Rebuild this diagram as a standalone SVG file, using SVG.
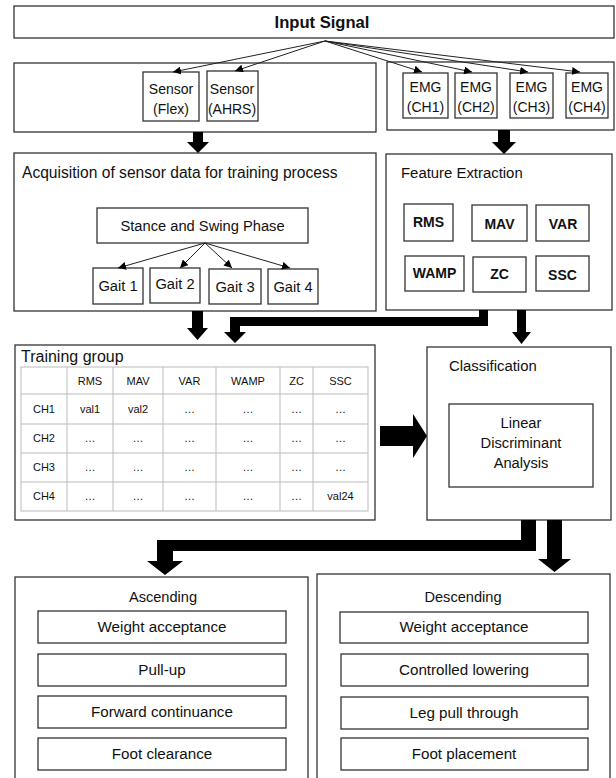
<svg xmlns="http://www.w3.org/2000/svg" width="616" height="778" viewBox="0 0 616 778" font-size="14">
<defs>
<marker id="ah" viewBox="0 0 10 10" refX="10" refY="5" markerWidth="8" markerHeight="8" markerUnits="userSpaceOnUse" orient="auto"><path d="M0,0 L10,5 L0,10 z" fill="#000"/></marker>
<style>
.box{fill:#fff;stroke:#333;stroke-width:1.3}
.t{font-family:"Liberation Sans",Arial,sans-serif;fill:#111}
.c{text-anchor:middle}
.b{font-weight:bold}
.ln{stroke:#222;stroke-width:1;fill:none;marker-end:url(#ah)}
.grid{stroke:#bbb;stroke-width:1;fill:none}
.tt{font-family:"Liberation Sans",Arial,sans-serif;font-size:11px;fill:#111;text-anchor:middle}
.thick{fill:#000}
.bt{font-size:15.2px}
</style>
</defs>
<rect width="616" height="778" fill="#fff"/>

<g id="input-signal">
<rect class="box" x="14" y="6" width="600" height="32"/>
<text class="t c b" x="322" y="28" font-size="16.6">Input Signal</text>
</g>

<g id="sensor-group">
<rect class="box" x="14" y="63" width="362" height="69"/>
</g>
<g id="sensor-flex">
<rect class="box" x="143" y="72" width="56" height="49"/>
<text class="t c" x="171" y="94">Sensor</text>
<text class="t c" x="171" y="114">(Flex)</text>
</g>
<g id="sensor-ahrs">
<rect class="box" x="207" y="71" width="51" height="50"/>
<text class="t c" x="232" y="94">Sensor</text>
<text class="t c" x="232" y="114">(AHRS)</text>
</g>

<g id="emg-group">
<rect class="box" x="387" y="62" width="227" height="68"/>
</g>
<g id="emg-ch1"><rect class="box" x="403" y="73" width="45" height="45"/><text class="t c" x="425.5" y="92">EMG</text><text class="t c" x="425.5" y="112">(CH1)</text></g>
<g id="emg-ch2"><rect class="box" x="455" y="73" width="42" height="45"/><text class="t c" x="476" y="92">EMG</text><text class="t c" x="476" y="112">(CH2)</text></g>
<g id="emg-ch3"><rect class="box" x="510" y="73" width="43" height="45"/><text class="t c" x="531.5" y="92">EMG</text><text class="t c" x="531.5" y="112">(CH3)</text></g>
<g id="emg-ch4"><rect class="box" x="566" y="73" width="42" height="45"/><text class="t c" x="587" y="92">EMG</text><text class="t c" x="587" y="112">(CH4)</text></g>

<g id="acquisition">
<rect class="box" x="14" y="153" width="362" height="158"/>
<text class="t" x="22" y="178" font-size="15.6">Acquisition of sensor data for training process</text>
</g>
<g id="stance-swing">
<rect class="box" x="97" y="208" width="211" height="35"/>
<text class="t c" x="202.5" y="231" font-size="14.7">Stance and Swing Phase</text>
</g>
<g id="gait1"><rect class="box" x="93" y="268" width="50" height="36"/><text class="t c" x="118" y="291" font-size="14.7">Gait 1</text></g>
<g id="gait2"><rect class="box" x="150" y="268" width="50" height="35"/><text class="t c" x="175" y="289" font-size="14.7">Gait 2</text></g>
<g id="gait3"><rect class="box" x="209" y="269" width="52" height="35"/><text class="t c" x="235" y="292" font-size="14.7">Gait 3</text></g>
<g id="gait4"><rect class="box" x="268" y="269" width="50" height="35"/><text class="t c" x="293" y="292" font-size="14.7">Gait 4</text></g>

<g id="feature-extraction">
<rect class="box" x="386" y="154" width="226" height="156"/>
<text class="t" x="401" y="178" font-size="14.9">Feature Extraction</text>
</g>
<g id="f-rms"><rect class="box" x="404" y="204" width="49" height="37"/><text class="t c b" x="428.5" y="227">RMS</text></g>
<g id="f-mav"><rect class="box" x="472" y="205" width="55" height="36"/><text class="t c b" x="499.5" y="229">MAV</text></g>
<g id="f-var"><rect class="box" x="536" y="205" width="53" height="36"/><text class="t c b" x="563" y="229">VAR</text></g>
<g id="f-wamp"><rect class="box" x="405" y="256" width="59" height="35"/><text class="t c b" x="434.5" y="278">WAMP</text></g>
<g id="f-zc"><rect class="box" x="473" y="257" width="53" height="35"/><text class="t c b" x="499.5" y="279">ZC</text></g>
<g id="f-ssc"><rect class="box" x="536" y="256" width="53" height="35"/><text class="t c b" x="562.5" y="280">SSC</text></g>

<g id="training-group">
<rect class="box" x="15" y="345" width="360" height="175"/>
<text class="t" x="21" y="362" font-size="16">Training group</text>
<rect class="grid" x="21" y="367" width="347" height="144"/>
<path class="grid" d="M67,367V511M113,367V511M163,367V511M216,367V511M280,367V511M313,367V511M21,394H368M21,424H368M21,453H368M21,482H368"/>
<text class="tt" x="90" y="385">RMS</text><text class="tt" x="138" y="385">MAV</text><text class="tt" x="189.5" y="385">VAR</text><text class="tt" x="248" y="385">WAMP</text><text class="tt" x="296.5" y="385">ZC</text><text class="tt" x="340.5" y="385">SSC</text>
<text class="tt" x="44" y="413">CH1</text><text class="tt" x="90" y="413">val1</text><text class="tt" x="138" y="413">val2</text><text class="tt" x="189.5" y="413">…</text><text class="tt" x="248" y="413">…</text><text class="tt" x="296.5" y="413">…</text><text class="tt" x="340.5" y="413">…</text>
<text class="tt" x="44" y="442">CH2</text><text class="tt" x="90" y="442">…</text><text class="tt" x="138" y="442">…</text><text class="tt" x="189.5" y="442">…</text><text class="tt" x="248" y="442">…</text><text class="tt" x="296.5" y="442">…</text><text class="tt" x="340.5" y="442">…</text>
<text class="tt" x="44" y="471">CH3</text><text class="tt" x="90" y="471">…</text><text class="tt" x="138" y="471">…</text><text class="tt" x="189.5" y="471">…</text><text class="tt" x="248" y="471">…</text><text class="tt" x="296.5" y="471">…</text><text class="tt" x="340.5" y="471">…</text>
<text class="tt" x="44" y="500">CH4</text><text class="tt" x="90" y="500">…</text><text class="tt" x="138" y="500">…</text><text class="tt" x="189.5" y="500">…</text><text class="tt" x="248" y="500">…</text><text class="tt" x="296.5" y="500">…</text><text class="tt" x="340.5" y="500">val24</text>
</g>

<g id="classification">
<rect class="box" x="427" y="347" width="184" height="173"/>
<text class="t" x="449" y="371" font-size="14.9">Classification</text>
</g>
<g id="lda">
<rect class="box" x="449" y="404" width="144" height="83"/>
<text class="t c" x="521" y="428" font-size="14.7">Linear</text>
<text class="t c" x="521" y="448" font-size="14.7">Discriminant</text>
<text class="t c" x="521" y="468" font-size="14.7">Analysis</text>
</g>

<g id="ascending">
<rect class="box" x="15" y="577" width="293" height="210"/>
<text class="t c" x="163" y="602" font-size="14.6">Ascending</text>
<rect class="box" x="38" y="611" width="248" height="32"/><text class="t c bt" x="162" y="632">Weight acceptance</text>
<rect class="box" x="38" y="654" width="248" height="32"/><text class="t c bt" x="162" y="675">Pull-up</text>
<rect class="box" x="38" y="696" width="248" height="32"/><text class="t c bt" x="162" y="717">Forward continuance</text>
<rect class="box" x="38" y="738" width="248" height="32"/><text class="t c bt" x="162" y="759">Foot clearance</text>
</g>
<g id="descending">
<rect class="box" x="317" y="574" width="293" height="213"/>
<text class="t c" x="463" y="602" font-size="14.6">Descending</text>
<rect class="box" x="340" y="612" width="248" height="31"/><text class="t c bt" x="464" y="632">Weight acceptance</text>
<rect class="box" x="341" y="654" width="247" height="32"/><text class="t c bt" x="464" y="675">Controlled lowering</text>
<rect class="box" x="341" y="697" width="247" height="32"/><text class="t c bt" x="464" y="718">Leg pull through</text>
<rect class="box" x="341" y="738" width="247" height="32"/><text class="t c bt" x="464" y="759">Foot placement</text>
</g>

<g id="connectors">
<line class="ln" x1="325" y1="41" x2="173" y2="72"/>
<line class="ln" x1="325" y1="41" x2="235" y2="71"/>
<line class="ln" x1="325" y1="41" x2="422" y2="72"/>
<line class="ln" x1="325" y1="41" x2="472" y2="72"/>
<line class="ln" x1="325" y1="41" x2="528" y2="72"/>
<line class="ln" x1="325" y1="41" x2="580" y2="72"/>
<line class="ln" x1="205" y1="243" x2="118" y2="268"/>
<line class="ln" x1="205" y1="243" x2="180" y2="268"/>
<line class="ln" x1="205" y1="243" x2="232" y2="268"/>
<line class="ln" x1="205" y1="243" x2="290" y2="268"/>
<polygon class="thick" points="193,132 203,132 203,142 209,142 198,153 187,142 193,142"/>
<polygon class="thick" points="498,130 510,130 510,142 516,142 504,154 492,142 498,142"/>
<polygon class="thick" points="192,311 203,311 203,328 208,328 197.5,340 187,328 192,328"/>
<polygon class="thick" points="479,310 488,310 488,326 240,326 240,332 246,332 235,343 224,332 230,332 230,317 479,317"/>
<polygon class="thick" points="517,310 526,310 526,332 531,332 521.5,344 512,332 517,332"/>
<polygon class="thick" points="380,426 413,426 413,414 427,436 413,458 413,446 380,446"/>
<polygon class="thick" points="521,520 536,520 536,551 173,551 173,561 183,561 165,575 147,561 157,561 157,540 521,540"/>
<polygon class="thick" points="547,520 562,520 562,559 571,559 554.5,572 538,559 547,559"/>
</g>
</svg>
